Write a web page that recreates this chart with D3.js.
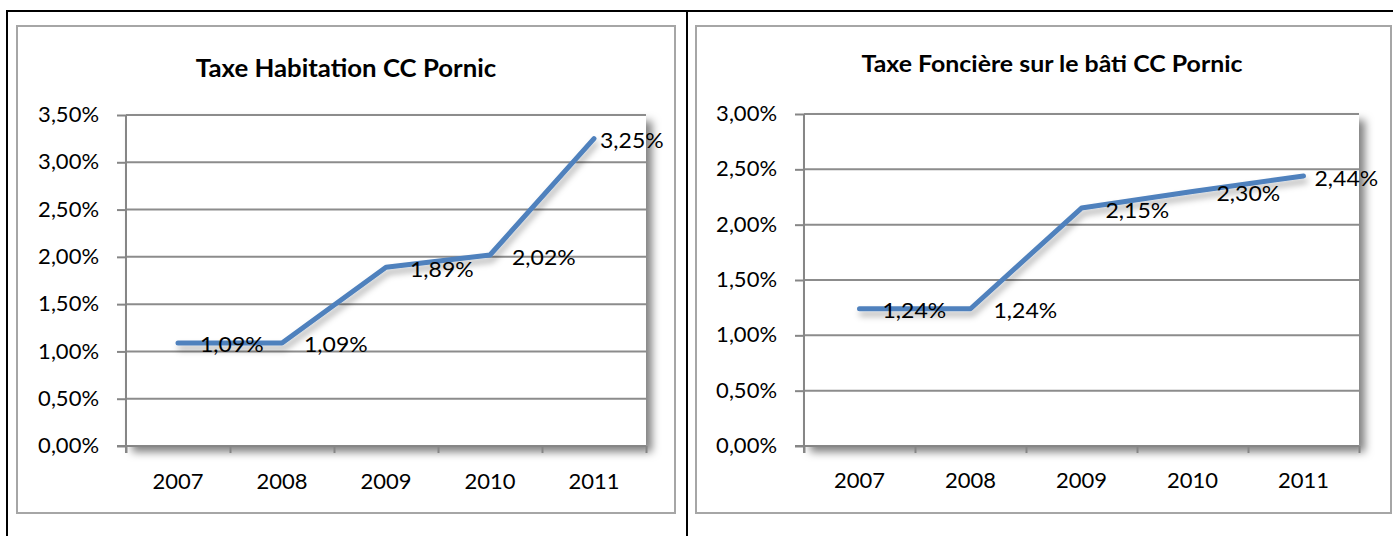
<!DOCTYPE html>
<html>
<head>
<meta charset="utf-8">
<script src="https://cdn.jsdelivr.net/npm/d3@7"></script>
<style>
  html, body { margin: 0; padding: 0; background: #fff; }
  svg { display: block; }
  text { font-family: Lato, "Open Sans", sans-serif; fill: #000; }
</style>
</head>
<body>
<svg id="chart" width="1393" height="536"></svg>
<script>
// Years on the category axis
const years = ["2007", "2008", "2009", "2010", "2011"];

// Tax rates, in percent
const habitationRates = [1.09, 1.09, 1.89, 2.02, 3.25];
const fonciereRates = [1.24, 1.24, 2.15, 2.30, 2.44];

// Value-axis ticks, in percent
const habitationTicks = [0, 0.5, 1, 1.5, 2, 2.5, 3, 3.5];
const fonciereTicks = [0, 0.5, 1, 1.5, 2, 2.5, 3];

// Chart titles
const habitationTitle = "Taxe Habitation CC Pornic";
const fonciereTitle = "Taxe Foncière sur le bâti CC Pornic";

// French number formatting: decimal comma
const fr = d3.formatLocale({ decimal: ",", thousands: " ", grouping: [3], currency: ["", " €"] });
const fmt2 = fr.format(".2f");
const pct = v => fmt2(v) + "%";

const svg = d3.select("#chart");
const defs = svg.append("defs");

const plotShadow = defs.append("filter").attr("id", "plotShadow")
  .attr("x", "-10%").attr("y", "-10%").attr("width", "125%").attr("height", "125%");
plotShadow.append("feDropShadow").attr("dx", 6).attr("dy", 6).attr("stdDeviation", 4)
  .attr("flood-color", "#000").attr("flood-opacity", 0.5);

const lineShadow = defs.append("filter").attr("id", "lineShadow")
  .attr("x", "-10%").attr("y", "-20%").attr("width", "130%").attr("height", "150%");
lineShadow.append("feDropShadow").attr("dx", 2).attr("dy", 5).attr("stdDeviation", 3)
  .attr("flood-color", "#000").attr("flood-opacity", 0.3);

// Page frame lines
const frame = svg.append("g").attr("stroke", "#000").attr("stroke-width", 2);
frame.append("line").attr("x1", 7).attr("x2", 1393).attr("y1", 11).attr("y2", 11);
frame.append("line").attr("x1", 7).attr("x2", 7).attr("y1", 10).attr("y2", 536);
frame.append("line").attr("x1", 687).attr("x2", 687).attr("y1", 10).attr("y2", 536);

const TEXT_SQUASH = 0.94;

function drawPanel(cfg) {
  const g = svg.append("g");

  // Chart area border
  g.append("rect")
    .attr("x", cfg.box[0]).attr("y", cfg.box[1])
    .attr("width", cfg.box[2]).attr("height", cfg.box[3])
    .attr("fill", "#fff").attr("stroke", "#a6a6a6").attr("stroke-width", 2);

  // Title
  g.append("g").attr("transform", `translate(${cfg.titlePos[0]},${cfg.titlePos[1]}) scale(1,${TEXT_SQUASH})`)
    .append("text")
    .attr("text-anchor", "middle")
    .attr("font-weight", 700)
    .attr("font-size", cfg.titleSize)
    .text(cfg.title);

  const x = d3.scaleBand().domain(years).range([cfg.plot[0], cfg.plot[1]]);
  const xEdges = d3.scaleLinear().domain([0, years.length]).range([cfg.plot[0], cfg.plot[1]]);
  const y = d3.scaleLinear().domain([0, d3.max(cfg.ticks)]).range([cfg.plot[3], cfg.plot[2]]);

  // Plot area with its shadow
  g.append("rect")
    .attr("x", cfg.plot[0]).attr("y", cfg.plot[2])
    .attr("width", cfg.plot[1] - cfg.plot[0]).attr("height", cfg.plot[3] - cfg.plot[2])
    .attr("fill", "#fff").attr("filter", "url(#plotShadow)");

  // Horizontal gridlines
  g.append("g").selectAll("line").data(cfg.ticks.filter(t => t > 0)).join("line")
    .attr("x1", cfg.plot[0]).attr("x2", cfg.plot[1])
    .attr("y1", d => y(d)).attr("y2", d => y(d))
    .attr("stroke", "#8c8c8c").attr("stroke-width", 2);

  // Value axis
  const yAxis = g.append("g").attr("transform", `translate(${cfg.plot[0]},0)`)
    .call(d3.axisLeft(y).tickValues(cfg.ticks).tickSize(9).tickPadding(18).tickFormat(pct));
  yAxis.select(".domain").attr("stroke", "#868686").attr("stroke-width", 2)
    .attr("d", `M0,${cfg.plot[2]}V${cfg.plot[3] + 7}`);
  yAxis.selectAll(".tick line").attr("stroke", "#868686").attr("stroke-width", 2);
  yAxis.selectAll(".tick text")
    .attr("font-size", cfg.fontSize).attr("font-family", "Lato, sans-serif").attr("fill", "#000")
    .attr("transform", `scale(1,${TEXT_SQUASH})`);

  // Category axis: tick marks on band edges, labels at band centres
  const xTicks = g.append("g").attr("transform", `translate(0,${cfg.plot[3]})`)
    .call(d3.axisBottom(xEdges).tickValues(d3.range(years.length + 1)).tickSize(7).tickFormat(""));
  xTicks.select(".domain").attr("stroke", "#868686").attr("stroke-width", 2)
    .attr("d", `M${cfg.plot[0] - 9},0H${cfg.plot[1]}`);
  xTicks.selectAll(".tick line").attr("stroke", "#868686").attr("stroke-width", 2);

  const xLabels = g.append("g").attr("transform", `translate(0,${cfg.plot[3]})`)
    .call(d3.axisBottom(x).tickSize(0).tickPadding(0));
  xLabels.select(".domain").remove();
  xLabels.selectAll(".tick text")
    .attr("font-size", cfg.fontSize).attr("font-family", "Lato, sans-serif").attr("fill", "#000")
    .attr("y", cfg.xLabelY / TEXT_SQUASH).attr("dy", "0.35em")
    .attr("transform", `scale(1,${TEXT_SQUASH})`);

  // Data line
  const pts = years.map((yr, i) => ({ yr, v: cfg.values[i] }));
  const line = d3.line().x(d => x(d.yr) + x.bandwidth() / 2).y(d => y(d.v));
  g.append("path").datum(pts)
    .attr("d", line)
    .attr("fill", "none")
    .attr("stroke", "#4f81bd")
    .attr("stroke-width", 5)
    .attr("stroke-linecap", "round")
    .attr("stroke-linejoin", "round")
    .attr("filter", "url(#lineShadow)");

  // Data labels to the right of each point
  g.append("g").selectAll("g").data(pts).join("g")
    .attr("transform", (d, i) => `translate(${x(d.yr) + x.bandwidth() / 2 + cfg.labelDx[i]},${y(d.v) + 2}) scale(1,${TEXT_SQUASH})`)
    .append("text")
    .attr("font-size", cfg.labelSize)
    .attr("dy", "0.35em")
    .text(d => pct(d.v));
}

drawPanel({
  title: habitationTitle, values: habitationRates, ticks: habitationTicks,
  box: [17, 26, 658, 487], plot: [126, 646, 115, 446],
  titlePos: [346, 77], titleSize: 25.8, fontSize: 22, labelSize: 23, xLabelY: 36,
  labelDx: [22, 22, 24, 22, 6]
});

drawPanel({
  title: fonciereTitle, values: fonciereRates, ticks: fonciereTicks,
  box: [696, 26, 695, 487], plot: [804, 1359, 114, 446],
  titlePos: [1052, 72], titleSize: 24.9, fontSize: 22, labelSize: 23, xLabelY: 35,
  labelDx: [23, 23, 24, 24, 11]
});
</script>
</body>
</html>
